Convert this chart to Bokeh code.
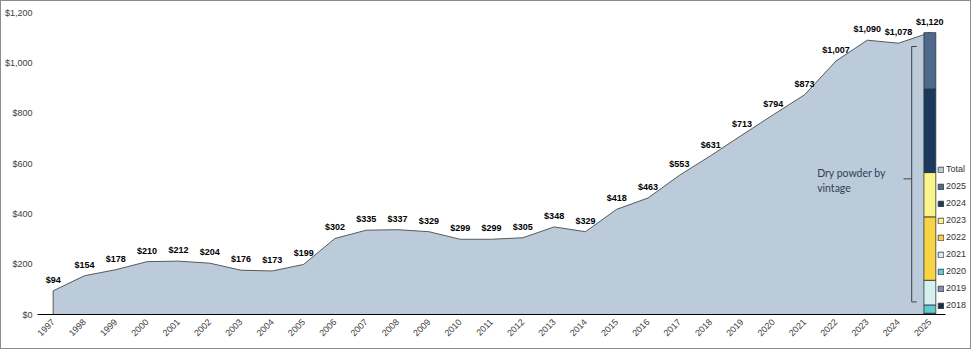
import numpy as np
from bokeh.plotting import figure
from bokeh.models import (Range1d, FixedTicker, NumeralTickFormatter, Legend,
                          LegendItem, Label, ColumnDataSource)
from bokeh.embed import file_html
from bokeh.resources import INLINE
from bokeh.core.properties import value

# ---------------- data ----------------
years = list(range(1997, 2026))
totals = [94, 154, 178, 210, 212, 204, 176, 173, 199, 302, 335, 337, 329, 299,
          299, 305, 348, 329, 418, 463, 553, 631, 713, 794, 873, 1007, 1090,
          1078, 1120]
vintages = ["2018", "2019", "2020", "2021", "2022", "2023", "2024", "2025"]
vintage_values = [2, 3, 33, 98, 252, 176, 332, 224]
vintage_colors = ["#1A2F4D", "#7D93AF", "#5CCBD3", "#D5F0EF", "#F6D443",
                  "#FBF48C", "#1B3B5E", "#4D6A8D"]
y_ticks = [0, 200, 400, 600, 800, 1000, 1200]
bar_year = 2025
annotation_text = "Dry powder by\nvintage"

# ---------------- figure ----------------
x_start, x_end = years[0] - 0.5, years[-1] + 0.5
p = figure(width=971, height=349, output_backend="svg", toolbar_location=None,
           x_range=Range1d(x_start, x_end + 0.83), y_range=Range1d(0, 1200),
           min_border_left=36, min_border_right=1, min_border_top=11,
           min_border_bottom=36)
p.styles = {"border": "1px solid #8c8c8c"}
p.outline_line_color = None
p.grid.visible = False

# area (total)
px = [years[0]] + years + [years[-1]]
py = [0] + totals + [0]
area = p.patch(px, py, fill_color="#BCCBDA", line_color="#595959", line_width=1)

# bracket
bx = bar_year - 0.58
p.line([bx + 0.16, bx, bx, bx + 0.16], [1065, 1065, 50, 50],
       line_color="#404040", line_width=1)
p.line([bx - 0.26, bx], [539, 539], line_color="#404040", line_width=1)

# stacked bar by vintage
src = ColumnDataSource(dict(x=[bar_year], **{v: [val] for v, val in zip(vintages, vintage_values)}))
bars = p.vbar_stack(vintages, x="x", width=0.38, source=src,
                    fill_color=vintage_colors, line_color="#333333", line_width=0.8)

# data labels
labels = [f"${v:,}" for v in totals]
p.text(x=years, y=totals, text=labels, text_align="center", text_baseline="bottom",
       y_offset=-6, text_font=value("Liberation Sans"), text_font_style="bold",
       text_font_size="9px", text_color="black")

# annotation
p.add_layout(Label(x=2021.4, y=585, text=annotation_text, text_font="Lato",
                   text_font_size="10.5px", text_color="#2F3F56",
                   text_baseline="top", text_line_height=1.2))

# legend
items = [LegendItem(label="Total", renderers=[area])]
for v, r in reversed(list(zip(vintages, bars))):
    items.append(LegendItem(label=v, renderers=[r]))
legend = Legend(items=items, location=(900, 4), glyph_width=7, glyph_height=7,
                label_height=10, spacing=7, padding=0, margin=0,
                border_line_color=None, background_fill_alpha=0,
                label_text_font_size="9px", label_standoff=2,
                label_text_font="Liberation Sans", label_text_color="#333333")
p.add_layout(legend, "center")

# axes
p.xaxis.ticker = FixedTicker(ticks=years)
p.xaxis.bounds = (x_start, x_end)
p.xaxis.major_label_orientation = np.pi / 4
p.xaxis.major_tick_line_color = None
p.xaxis.major_tick_out = 0
p.xaxis.minor_tick_line_color = None
p.xaxis.axis_line_color = "black"
p.xaxis.major_label_text_font = "Liberation Sans"
p.xaxis.major_label_text_font_size = "9px"
p.xaxis.major_label_text_color = "#404040"
p.xaxis.major_label_standoff = 6

p.yaxis.ticker = FixedTicker(ticks=y_ticks)
p.yaxis.formatter = NumeralTickFormatter(format="$0,0")
p.yaxis.axis_line_color = None
p.yaxis.major_tick_line_color = None
p.yaxis.major_tick_out = 0
p.yaxis.minor_tick_line_color = None
p.yaxis.major_label_text_font = "Liberation Sans"
p.yaxis.major_label_text_font_size = "9px"
p.yaxis.major_label_text_color = "#404040"
p.yaxis.major_label_standoff = 5

open("out.html", "w").write(file_html(p, INLINE))
